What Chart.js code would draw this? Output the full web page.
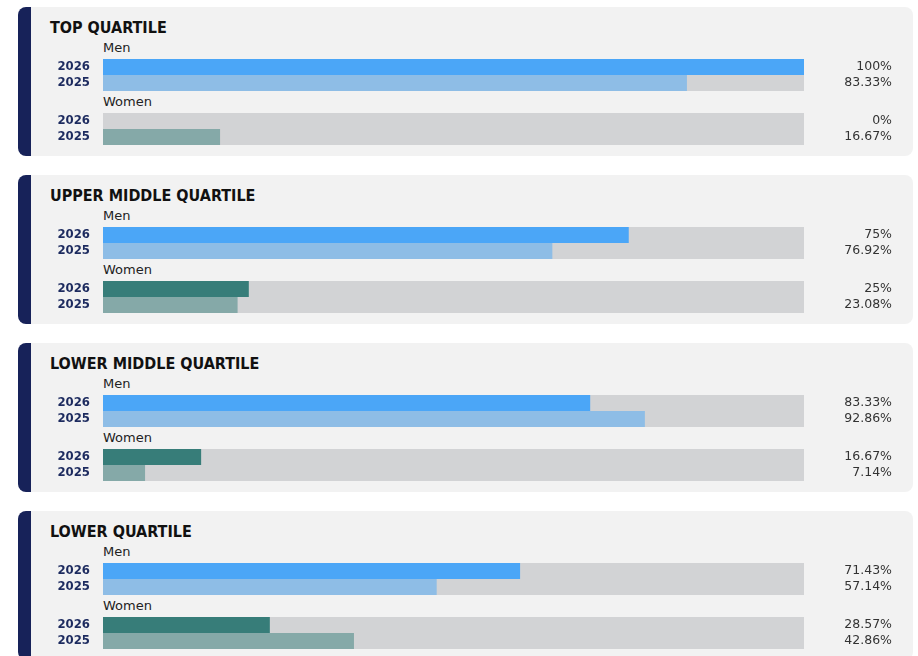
<!DOCTYPE html>
<html>
<head>
<meta charset="utf-8">
<script src="https://cdn.jsdelivr.net/npm/chart.js@4.4.1/dist/chart.umd.min.js"></script>
<style>
  html, body { margin: 0; padding: 0; background: #ffffff; }
  body { width: 918px; height: 656px; overflow: hidden; position: relative; font-family: 'DejaVu Sans', sans-serif; }
  .panel { position: absolute; left: 18px; width: 895px; height: 149px; box-sizing: border-box;
           background: #f2f2f2; border-left: 13px solid #172259; border-radius: 8px; }
  .title { position: absolute; left: 19px; top: 11px; font-family: 'DejaVu Sans Condensed', 'DejaVu Sans', sans-serif;
           font-weight: bold; font-size: 16px; line-height: normal; color: #111; white-space: nowrap; }
  .grp { position: absolute; left: 72px; font-size: 13px; color: #222; line-height: normal; white-space: nowrap; }
  canvas { position: absolute; left: 0; }
</style>
</head>
<body>
<script>
// ---- data ----
const quartiles = ['TOP QUARTILE', 'UPPER MIDDLE QUARTILE', 'LOWER MIDDLE QUARTILE', 'LOWER QUARTILE'];
const years = ['2026', '2025'];
const groups = ['Men', 'Women'];
// bar lengths as drawn (percent of the grey track)
const men2026 = [100, 75.0, 69.5, 59.5];
const men2025 = [83.3, 64.1, 77.3, 47.6];
const women2026 = [0, 20.8, 14.0, 23.8];
const women2025 = [16.7, 19.2, 6.0, 35.8];
// value labels as printed
const men2026Labels = ['100%', '75%', '83.33%', '71.43%'];
const men2025Labels = ['83.33%', '76.92%', '92.86%', '57.14%'];
const women2026Labels = ['0%', '25%', '16.67%', '28.57%'];
const women2025Labels = ['16.67%', '23.08%', '7.14%', '42.86%'];
const trackMax = 100;

const COLORS = {
  men: ['#4ba6f7', '#8ebde6'],
  women: ['#377d79', '#85a9a8'],
  track: '#d2d3d5'
};

const PAD = 22;     // vertical room for tick labels around the 32px plot
const ROWS_H = 32;

function makeChart(parent, top, values, colors, labels) {
  const c = document.createElement('canvas');
  const h = ROWS_H + 2 * PAD;
  c.width = 861; c.height = h;
  c.style.top = (top - PAD) + 'px';
  c.style.width = '861px'; c.style.height = h + 'px';
  parent.appendChild(c);
  new Chart(c, {
    type: 'bar',
    data: {
      labels: years,
      datasets: [
        { data: values, backgroundColor: colors, order: 1, grouped: false,
          categoryPercentage: 1, barPercentage: 1, borderWidth: 0, inflateAmount: 0 },
        { data: years.map(() => trackMax), backgroundColor: COLORS.track, order: 2, grouped: false,
          categoryPercentage: 1, barPercentage: 1, borderWidth: 0, inflateAmount: 0 }
      ]
    },
    options: {
      indexAxis: 'y',
      responsive: false,
      animation: false,
      events: [],
      layout: { padding: { top: PAD, bottom: PAD, left: 0, right: 0 } },
      plugins: { legend: { display: false }, tooltip: { enabled: false } },
      scales: {
        x: { min: 0, max: trackMax, display: false },
        y: {
          position: 'left',
          grid: { display: false, drawTicks: false },
          border: { display: false },
          ticks: { autoSkip: false, padding: 13, color: '#1d2b5f',
                   font: { family: "'DejaVu Sans Condensed', 'DejaVu Sans', sans-serif", weight: 'bold', size: 13 } },
          afterFit(s) { s.width = 72; }
        },
        y2: {
          type: 'category',
          labels: labels,
          position: 'right',
          offset: true,
          grid: { display: false, drawTicks: false },
          border: { display: false },
          ticks: { autoSkip: false, crossAlign: 'far', padding: 0, color: '#333333',
                   font: { family: "'DejaVu Sans', sans-serif", size: 12.5 } },
          afterFit(s) { s.width = 88; }
        }
      }
    }
  });
}

quartiles.forEach((q, i) => {
  const p = document.createElement('div');
  p.className = 'panel';
  p.style.top = (7 + 168 * i) + 'px';
  document.body.appendChild(p);

  const t = document.createElement('div');
  t.className = 'title';
  t.textContent = q;
  p.appendChild(t);

  const gm = document.createElement('div');
  gm.className = 'grp'; gm.style.top = '33px'; gm.textContent = groups[0];
  p.appendChild(gm);
  const gw = document.createElement('div');
  gw.className = 'grp'; gw.style.top = '87px'; gw.textContent = groups[1];
  p.appendChild(gw);

  makeChart(p, 52, [men2026[i], men2025[i]], COLORS.men, [men2026Labels[i], men2025Labels[i]]);
  makeChart(p, 106, [women2026[i], women2025[i]], COLORS.women, [women2026Labels[i], women2025Labels[i]]);
});
</script>
</body>
</html>
